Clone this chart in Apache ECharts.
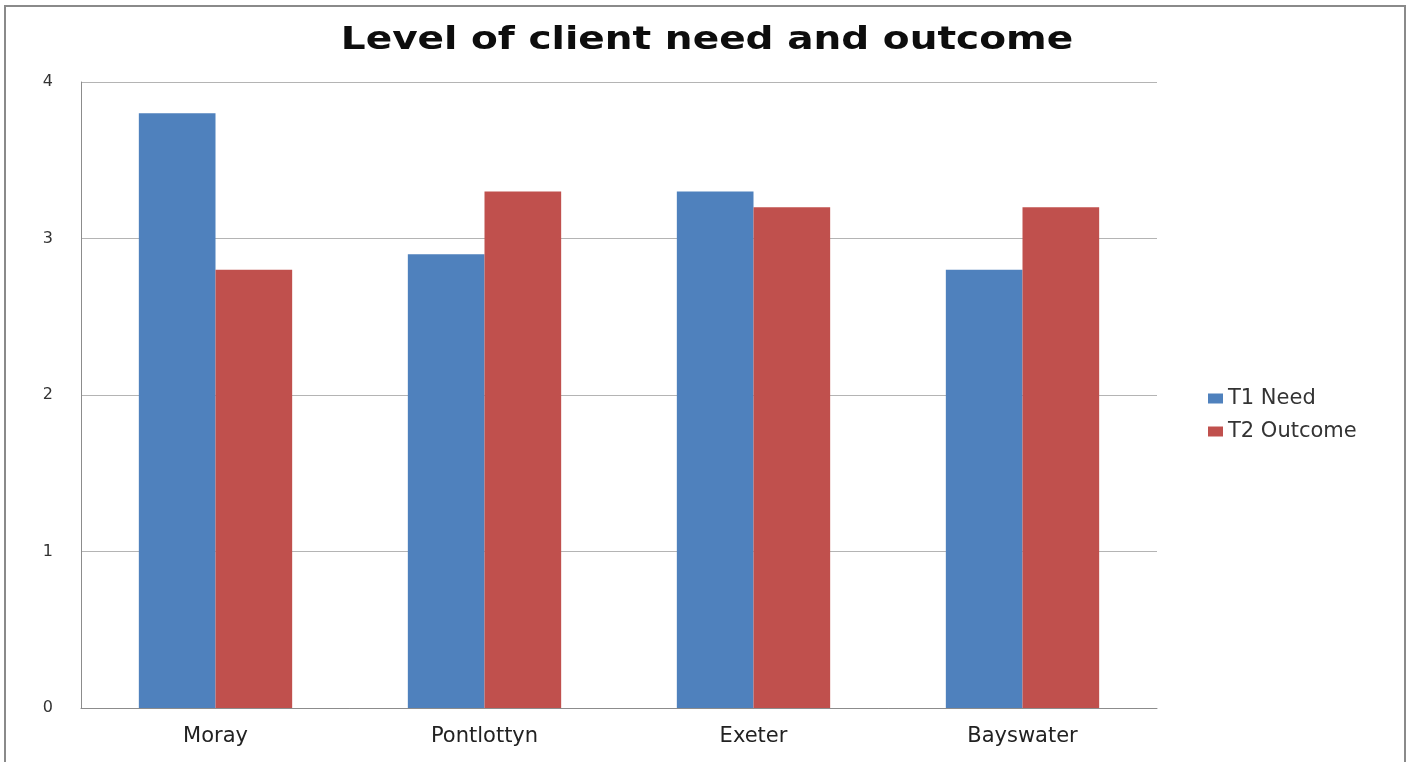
<!DOCTYPE html>
<html>
<head>
<meta charset="utf-8">
<script src="https://cdn.jsdelivr.net/npm/echarts@6/dist/echarts.min.js"></script>
<style>
  html, body { margin: 0; padding: 0; background: #ffffff; }
  #chart { width: 1411px; height: 762px; }
</style>
</head>
<body>
<div id="chart"></div>
<script>
// Sites compared
const categories = ['Moray', 'Pontlottyn', 'Exeter', 'Bayswater'];
// Mean level of need at T1 and outcome at T2
const t1Need = [3.8, 2.9, 3.3, 2.8];
const t2Outcome = [2.8, 3.3, 3.2, 3.2];
const seriesNames = ['T1 Need', 'T2 Outcome'];
const yTicks = { min: 0, max: 4, interval: 1 };
const chartTitle = 'Level of client need and outcome';

const chart = echarts.init(document.getElementById('chart'), null, { renderer: 'canvas' });

const font = 'DejaVu Sans';

chart.setOption({
  backgroundColor: '#ffffff',
  animation: false,
  graphic: [
    {
      // frame around the chart
      type: 'rect',
      shape: { x: 5, y: 6, width: 1400, height: 800 },
      style: { fill: 'none', stroke: '#8a8a8a', lineWidth: 2 },
      silent: true
    },
    {
      // heading, slightly widened
      type: 'text',
      x: 707,
      y: 41,
      scaleX: 1.22,
      style: {
        text: chartTitle,
        align: 'center',
        verticalAlign: 'middle',
        fontFamily: font,
        fontWeight: 'bold',
        fontSize: 32,
        fill: '#0d0d0d'
      },
      silent: true
    }
  ],
  legend: {
    orient: 'vertical',
    left: 1203,
    top: 383,
    itemWidth: 15,
    itemHeight: 10,
    itemGap: 12,
    icon: 'rect',
    textStyle: { fontFamily: font, fontSize: 21, color: '#333333' },
    data: seriesNames
  },
  grid: { left: 81, right: 1411 - 1157, top: 82, bottom: 762 - 708, containLabel: false },
  xAxis: {
    type: 'category',
    data: categories,
    axisLine: { show: true, lineStyle: { color: '#8c8c8c', width: 1 } },
    axisTick: { show: false },
    axisLabel: { fontFamily: font, fontSize: 21, color: '#222222', margin: 18 }
  },
  yAxis: {
    type: 'value',
    min: yTicks.min,
    max: yTicks.max,
    interval: yTicks.interval,
    axisLine: { show: true, lineStyle: { color: '#8c8c8c', width: 1 } },
    axisTick: { show: false },
    splitLine: { lineStyle: { color: '#b4b4b4', width: 1 } },
    axisLabel: { fontFamily: font, fontSize: 16, color: '#333333', margin: 28 }
  },
  series: [
    {
      name: seriesNames[0],
      type: 'bar',
      data: t1Need,
      barGap: '0%',
      barCategoryGap: '43%',
      itemStyle: { color: '#4F81BD' }
    },
    {
      name: seriesNames[1],
      type: 'bar',
      data: t2Outcome,
      itemStyle: { color: '#C0504D' }
    }
  ]
});
</script>
</body>
</html>
